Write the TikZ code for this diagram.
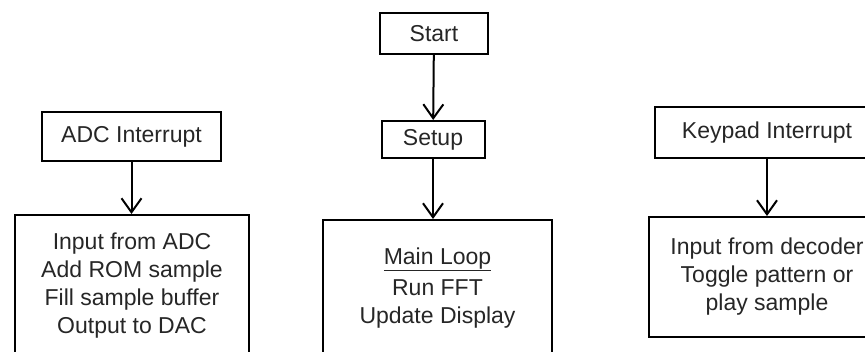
\documentclass[tikz,border=0pt]{standalone}
\usepackage{fontspec}
\setmainfont{Liberation Sans}
\usetikzlibrary{arrows.meta}

\tikzset{
    box/.style={draw, line width=2pt, align=center, inner sep=0pt,
        font=\fontsize{23}{28}\selectfont, text=black!85},
    flow/.style={line width=2pt, -{Straight Barb[length=14pt,width=20pt,line width=2pt]}}
}

\begin{document}
\begin{tikzpicture}[x=1pt,y=-1pt]
            % picture frame
            \useasboundingbox (0,0) rectangle (865,352);
            \clip (0,0) rectangle (865,352);

            % middle column
            \node[box, minimum width=108pt, minimum height=41pt] (start) at (434,33.5) {Start};
            \node[box, minimum width=103pt, minimum height=37pt] (setup) at (433,139.5) {Setup};
            \node[box, minimum width=229pt, minimum height=136pt] (mainloop) at (437.5,288)
                {\underline{Main Loop}\\[3pt] Run FFT\\ Update Display};

            % left column
            \node[box, minimum width=179pt, minimum height=49pt] (adcint) at (131.5,136.5) {ADC Interrupt};
            \node[box, minimum width=234pt, minimum height=141pt] (adcisr) at (132,285.5)
                {Input from ADC\\ Add ROM sample\\ Fill sample buffer\\ Output to DAC};

            % right column
            \node[box, minimum width=224pt, minimum height=51pt] (keyint) at (767,132.5) {Keypad Interrupt};
            \node[box, minimum width=236pt, minimum height=120pt] (keyisr) at (767,277)
                {Input from decoder\\ Toggle pattern or\\ play sample};

            % arrows
            \draw[flow] (start) -- (setup);
            \draw[flow] (setup) -- (setup |- mainloop.north);
            \draw[flow] (adcint) -- (adcint |- adcisr.north);
            \draw[flow] (keyint) -- (keyisr);
        \end{tikzpicture}
\end{document}
